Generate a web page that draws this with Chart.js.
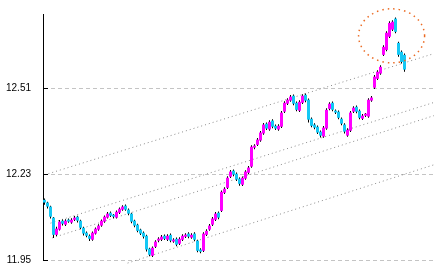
<!DOCTYPE html>
<html>
<head>
<meta charset="utf-8">
<script src="https://cdn.jsdelivr.net/npm/chart.js@4.4.1/dist/chart.umd.min.js"></script>
<style>
	html, body { margin: 0; padding: 0; background: #fff; }
	canvas { display: block; }
</style>
</head>
<body>
<canvas id="canvas1" width="434" height="274"></canvas>
<script>
	// daily prices, one entry per trading day (x = day index)
	var opens = [
		12.146, 12.137, 12.124, 12.088, 12.032, 12.049, 12.078, 12.065, 12.081, 12.072,
		12.081, 12.091, 12.078, 12.055, 12.039, 12.029, 12.016, 12.036, 12.049, 12.062,
		12.075, 12.088, 12.104, 12.097, 12.088, 12.104, 12.114, 12.127, 12.114, 12.101,
		12.078, 12.065, 12.049, 12.039, 12.029, 11.987, 11.964, 11.993, 12.013, 12.016,
		12.029, 12.016, 12.032, 12.010, 12.019, 12.003, 12.016, 12.026, 12.036, 12.023,
		12.036, 12.013, 11.984, 11.980, 12.032, 12.049, 12.065, 12.081, 12.104, 12.110,
		12.169, 12.185, 12.221, 12.241, 12.231, 12.215, 12.195, 12.215, 12.234, 12.254,
		12.316, 12.325, 12.339, 12.362, 12.394, 12.375, 12.404, 12.387, 12.375, 12.384,
		12.433, 12.459, 12.469, 12.485, 12.462, 12.436, 12.462, 12.488, 12.472, 12.410,
		12.391, 12.384, 12.368, 12.352, 12.378, 12.442, 12.462, 12.436, 12.433, 12.410,
		12.391, 12.355, 12.371, 12.433, 12.449, 12.436, 12.410, 12.420, 12.417, 12.469,
		12.511, 12.540, 12.557, 12.618, 12.634, 12.677, 12.700, 12.736, 12.657, 12.628,
		12.618
	];
	var closes = [
		12.137, 12.124, 12.091, 12.032, 12.052, 12.075, 12.068, 12.078, 12.075, 12.081,
		12.088, 12.078, 12.055, 12.036, 12.029, 12.019, 12.039, 12.052, 12.062, 12.078,
		12.091, 12.101, 12.094, 12.091, 12.107, 12.117, 12.124, 12.114, 12.101, 12.075,
		12.062, 12.045, 12.036, 12.026, 11.984, 11.967, 11.990, 12.010, 12.019, 12.026,
		12.019, 12.029, 12.013, 12.016, 12.000, 12.019, 12.029, 12.032, 12.026, 12.032,
		12.016, 11.980, 11.977, 12.036, 12.045, 12.062, 12.085, 12.101, 12.088, 12.172,
		12.182, 12.218, 12.238, 12.228, 12.212, 12.198, 12.218, 12.238, 12.251, 12.319,
		12.322, 12.342, 12.365, 12.391, 12.378, 12.400, 12.384, 12.378, 12.387, 12.430,
		12.462, 12.472, 12.482, 12.459, 12.439, 12.465, 12.485, 12.469, 12.407, 12.387,
		12.381, 12.365, 12.355, 12.381, 12.439, 12.459, 12.439, 12.430, 12.413, 12.394,
		12.368, 12.374, 12.430, 12.446, 12.433, 12.413, 12.420, 12.424, 12.472, 12.479,
		12.547, 12.563, 12.579, 12.644, 12.690, 12.722, 12.726, 12.693, 12.618, 12.595,
		12.570
	];
	var highs = [
		12.150, 12.140, 12.127, 12.090, 12.058, 12.080, 12.082, 12.083, 12.085, 12.086,
		12.093, 12.094, 12.081, 12.058, 12.043, 12.033, 12.043, 12.056, 12.066, 12.082,
		12.095, 12.106, 12.108, 12.100, 12.111, 12.121, 12.128, 12.131, 12.118, 12.104,
		12.081, 12.068, 12.052, 12.043, 12.032, 11.990, 11.994, 12.014, 12.024, 12.031,
		12.033, 12.034, 12.036, 12.021, 12.023, 12.024, 12.034, 12.037, 12.040, 12.037,
		12.040, 12.016, 11.988, 12.040, 12.050, 12.067, 12.090, 12.106, 12.108, 12.176,
		12.187, 12.223, 12.243, 12.245, 12.235, 12.219, 12.222, 12.242, 12.256, 12.324,
		12.327, 12.347, 12.370, 12.396, 12.398, 12.405, 12.408, 12.391, 12.392, 12.435,
		12.467, 12.477, 12.487, 12.489, 12.466, 12.470, 12.490, 12.492, 12.476, 12.414,
		12.395, 12.388, 12.372, 12.386, 12.444, 12.464, 12.466, 12.440, 12.437, 12.414,
		12.395, 12.379, 12.435, 12.451, 12.453, 12.440, 12.425, 12.429, 12.477, 12.484,
		12.552, 12.568, 12.584, 12.649, 12.695, 12.727, 12.731, 12.740, 12.661, 12.632,
		12.622
	];
	var lows = [
		12.130, 12.118, 12.085, 12.022, 12.028, 12.046, 12.062, 12.061, 12.071, 12.068,
		12.077, 12.072, 12.050, 12.030, 12.024, 12.012, 12.013, 12.033, 12.045, 12.058,
		12.071, 12.085, 12.090, 12.086, 12.085, 12.100, 12.110, 12.110, 12.096, 12.070,
		12.057, 12.040, 12.031, 12.020, 11.978, 11.962, 11.960, 11.989, 12.008, 12.012,
		12.015, 12.012, 12.008, 12.006, 11.995, 11.999, 12.012, 12.022, 12.021, 12.019,
		12.011, 11.975, 11.972, 11.976, 12.028, 12.045, 12.061, 12.077, 12.083, 12.106,
		12.165, 12.181, 12.217, 12.223, 12.207, 12.192, 12.191, 12.211, 12.230, 12.250,
		12.311, 12.321, 12.335, 12.358, 12.373, 12.371, 12.379, 12.373, 12.371, 12.380,
		12.429, 12.455, 12.465, 12.454, 12.434, 12.432, 12.458, 12.464, 12.398, 12.382,
		12.376, 12.360, 12.349, 12.348, 12.374, 12.438, 12.434, 12.425, 12.408, 12.389,
		12.362, 12.351, 12.367, 12.429, 12.428, 12.408, 12.406, 12.416, 12.413, 12.465,
		12.507, 12.536, 12.553, 12.614, 12.630, 12.673, 12.696, 12.688, 12.612, 12.590,
		12.563
	];

	var yTicks = [11.95, 12.23, 12.51];
	var yMin = 11.95;
	var yMax = 12.751;
	var xMin = -0.5;
	var xMax = 129.833;

	// trend channel lines: [start day, start price, end day, end price]
	var channelLines = [
		[1.3, 12.231, 129.8, 12.622],
		[2.0, 12.070, 129.8, 12.463],
		[2.6, 12.022, 129.8, 12.420],
		[27.7, 11.940, 129.8, 12.260]
	];

	// dotted ring around the latest peak: [day, price] and radius [days, price]
	var highlightCenter = [115.7, 12.680];
	var highlightRadius = [11, 0.088];

	var upColor = '#ff00ff';
	var downColor = '#14c8f5';

	var highlightPlugin = {
		id: 'highlight',
		afterDatasetsDraw: function(chart) {
			var xs = chart.scales.x;
			var ys = chart.scales.y;
			var ctx = chart.ctx;
			var cx = xs.getPixelForValue(highlightCenter[0]);
			var cy = ys.getPixelForValue(highlightCenter[1]);
			var rx = Math.abs(xs.getPixelForValue(highlightCenter[0] + highlightRadius[0]) - cx);
			var ry = Math.abs(ys.getPixelForValue(highlightCenter[1] + highlightRadius[1]) - cy);
			ctx.save();
			ctx.strokeStyle = '#eb6a22';
			ctx.lineWidth = 1.5;
			ctx.setLineDash([1.5, 4]);
			ctx.beginPath();
			ctx.ellipse(cx, cy, rx, ry, 0, 0, Math.PI * 2);
			ctx.stroke();
			ctx.restore();
		}
	};

	var datasets = [];
	datasets.push({
		type: 'bar',
		label: 'wick',
		data: highs.map(function(h, i) { return {x: i, y: [lows[i], h]}; }),
		backgroundColor: '#000',
		barThickness: 1,
		grouped: false,
		inflateAmount: 0,
		order: 2
	});
	datasets.push({
		type: 'bar',
		label: 'body',
		data: opens.map(function(o, i) { return {x: i, y: [o, closes[i]]}; }),
		backgroundColor: function(ctx) {
			var i = ctx.dataIndex;
			return closes[i] >= opens[i] ? upColor : downColor;
		},
		barThickness: 3,
		minBarLength: 2,
		grouped: false,
		inflateAmount: 0,
		order: 1
	});
	channelLines.forEach(function(line, n) {
		datasets.push({
			type: 'line',
			label: 'channel' + n,
			data: [{x: line[0], y: line[1]}, {x: line[2], y: line[3]}],
			borderColor: '#8a8a8a',
			borderWidth: 1,
			borderDash: [1, 3],
			pointRadius: 0,
			fill: false,
			clip: false,
			order: 3
		});
	});

	new Chart(document.getElementById('canvas1'), {
		type: 'bar',
		data: {
			datasets: datasets
		},
		options: {
			responsive: false,
			maintainAspectRatio: false,
			animation: false,
			layout: {
				padding: {top: 14, bottom: 14, left: 0, right: 0}
			},
			plugins: {
				legend: {display: false},
				tooltip: {enabled: false}
			},
			scales: {
				x: {
					type: 'linear',
					display: false,
					min: xMin,
					max: xMax,
					offset: false
				},
				y: {
					min: yMin,
					max: yMax,
					afterBuildTicks: function(scale) {
						scale.ticks = yTicks.map(function(v) { return {value: v}; });
					},
					afterFit: function(scale) {
						// keep the plot edge at x=43 and stop label padding from shrinking the plot
						scale.width = 43;
						scale.paddingTop = 0;
						scale.paddingBottom = 0;
					},
					border: {display: true, color: '#000', width: 1, dash: [4, 3]},
					grid: {color: '#c4c4c4', tickColor: '#000', tickLength: -5},
					ticks: {
						padding: 17,
						color: '#000',
						font: {family: "'Liberation Sans', Arial, sans-serif", size: 10},
						callback: function(v) { return v.toFixed(2); }
					}
				}
			}
		},
		plugins: [highlightPlugin]
	});
</script>
</body>
</html>
